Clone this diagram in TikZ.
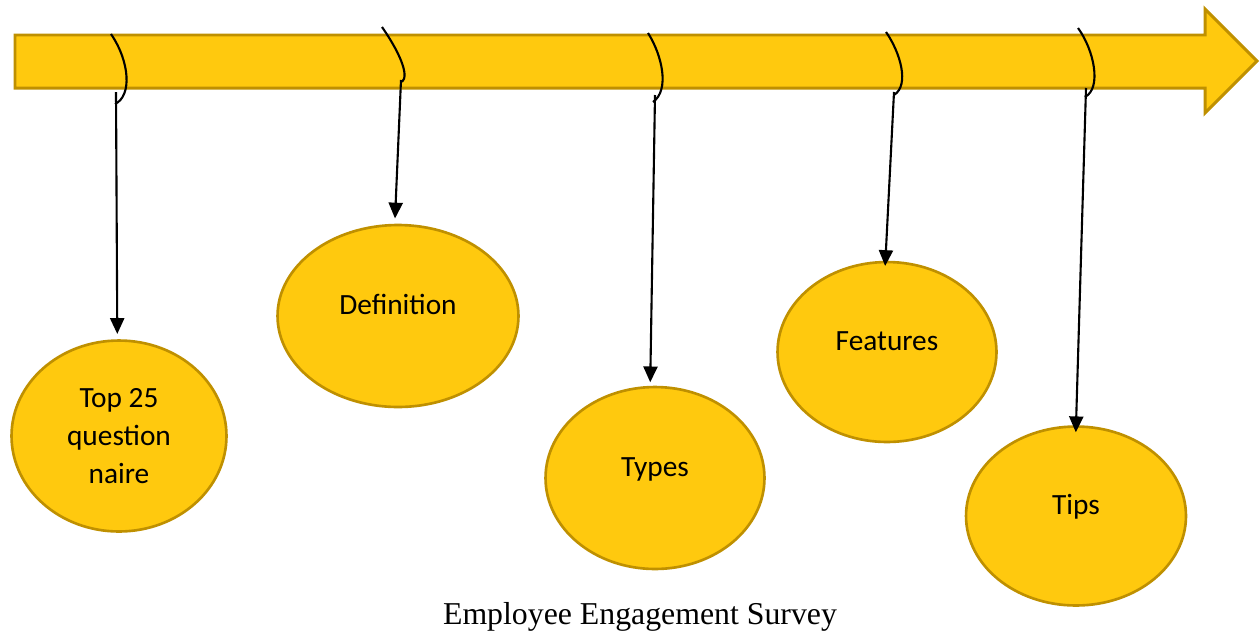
\documentclass[tikz,border=0pt]{standalone}
\usepackage{fontspec}
\setmainfont{Carlito}
\newfontfamily\captionfont{Liberation Serif}
\usepackage{xcolor}
\usetikzlibrary{shapes,arrows.meta,positioning}
\definecolor{gold}{HTML}{FFC90E}
\definecolor{darkgold}{HTML}{BF9000}

\begin{document}
\begin{tikzpicture}[x=0.02cm,y=-0.02cm,
    blob/.style={draw=darkgold,fill=gold,line width=1.5pt,ellipse,inner sep=0pt,align=center,
        font=\fontsize{16.7}{21.5}\selectfont},
    raised/.style={text depth=13pt},
    hook/.style={line width=1.2pt},
    pointer/.style={line width=1.2pt,-{Triangle[length=9pt,width=8pt]}}]
    \useasboundingbox (0,0) rectangle (1260,633);

    % Timeline
    \draw[draw=darkgold,fill=gold,line width=1.7pt] (15,35) -- (1205,35) -- (1205,9) -- (1257,61)
        -- (1205,113) -- (1205,88) -- (15,88) -- cycle;

    % Hooks
    \draw[hook] (111,34) .. controls (130,62) and (132,96) .. (115,104);
    \draw[hook] (382,27) .. controls (398,50) and (410,75) .. (402,82);
    \draw[hook] (648,33) .. controls (662,55) and (670,90) .. (653,102);
    \draw[hook] (886,32) .. controls (900,52) and (910,85) .. (894,95);
    \draw[hook] (1078,28) .. controls (1094,50) and (1102,88) .. (1085,97);
    \coordinate (h1) at (116,92);
    \coordinate (h2) at (401,80);
    \coordinate (h3) at (655,95);
    \coordinate (h4) at (894,92);
    \coordinate (h5) at (1086,88);

    % Topics
    \node[blob,minimum width=4.3cm,minimum height=3.82cm] (top) at (119,436) {Top 25\\question\\naire};
    \node[blob,raised,minimum width=4.82cm,minimum height=3.64cm] (def) at (398,316) {Definition};
    \node[blob,raised,minimum width=4.38cm,minimum height=3.64cm] (types) at (655,478) {Types};
    \node[blob,raised,minimum width=4.38cm,minimum height=3.6cm] (feat) at (887,352) {Features};
    \node[blob,raised,minimum width=4.4cm,minimum height=3.58cm] (tips) at (1076,516) {Tips};

    % Pointers
    \draw[pointer,shorten >=3pt] (h1) -- (top.91);
    \draw[pointer,shorten >=3pt] (h2) -- (def.92.5);
    \draw[pointer,shorten >=2pt] (h3) -- (types.93.6);
    \draw[pointer,shorten >=-3pt] (h4) -- (feat.91);
    \draw[pointer,shorten >=-4pt] (h5) -- (tips.90.5);

    % Caption
    \node[font=\captionfont\fontsize{18.1}{20}\selectfont] (title) at (640,617) {Employee Engagement Survey};
\end{tikzpicture}
\end{document}
